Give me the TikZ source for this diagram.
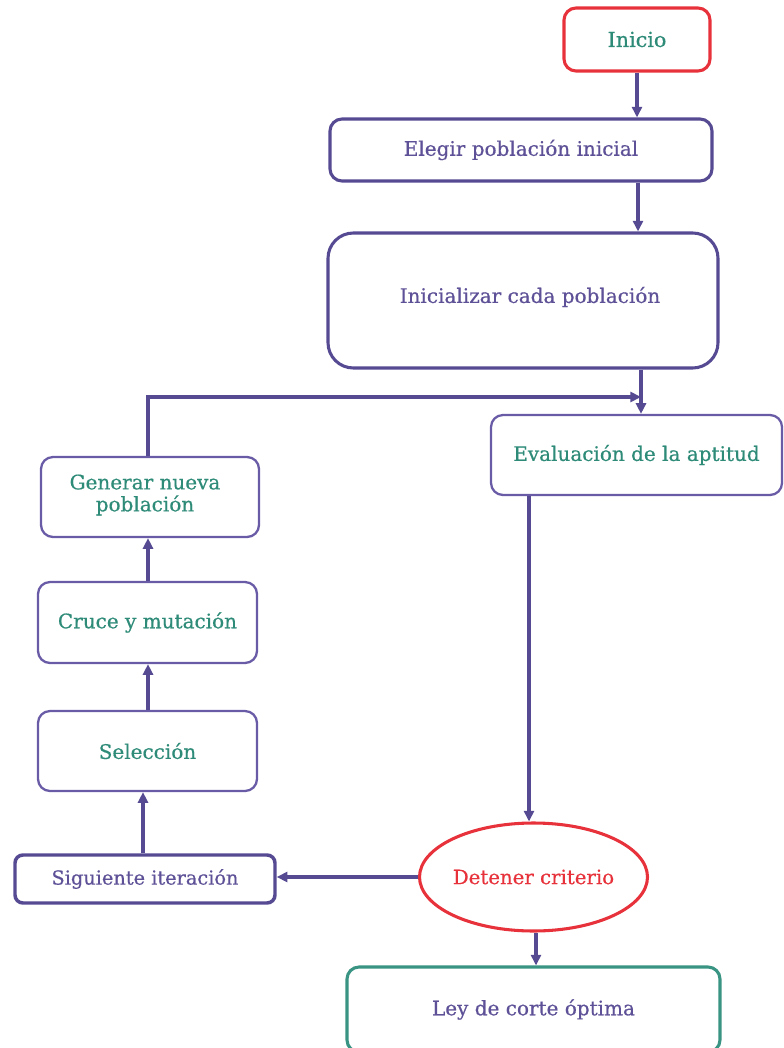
\documentclass[tikz,border=0pt]{standalone}
\usepackage{fontspec}
\setmainfont{DejaVu Serif}[FakeBold=0.5]
\usetikzlibrary{shapes.geometric,arrows.meta}
\definecolor{lineviolet}{HTML}{564A93}
\definecolor{boxviolet}{HTML}{6A5BA6}
\definecolor{txtviolet}{HTML}{5E5197}
\definecolor{txtteal}{HTML}{2E8B78}
\definecolor{edgered}{HTML}{E8323B}
\definecolor{edgeteal}{HTML}{3A9483}
\tikzset{
  box/.style={draw=lineviolet, line width=2.3pt, rounded corners=9pt, fill=white,
              align=center, inner sep=0pt, font=\fontsize{15}{16.5}\selectfont},
  thinbox/.style={box, draw=boxviolet, line width=1.7pt},
  flow/.style={draw=lineviolet, line width=2.4pt,
               -{Triangle[length=8pt,width=7.5pt]}},
}
\begin{document}
\begin{tikzpicture}[x=0.75pt, y=-0.75pt]
  \useasboundingbox (0,0) rectangle (783,1048);

  % main column
  \node[box, draw=edgered, text=txtteal, minimum width=109.5pt, minimum height=47.25pt,
        font=\fontsize{15.5}{17}\selectfont] (ini) at (637,39.5) {Inicio};
  \node[box, text=txtviolet, minimum width=286.5pt, minimum height=46.5pt] (ele) at (521,150)
        {Elegir población inicial};
  \node[box, text=txtviolet, rounded corners=19pt, minimum width=292.5pt, minimum height=101.25pt]
        (inz) at (523,300.5) {};
  \node[text=txtviolet, font=\fontsize{15}{16.5}\selectfont] (inzt) at (530,297)
        {Inicializar cada población};
  \node[thinbox, text=txtteal, minimum width=218.25pt, minimum height=60pt] (eva) at (636.5,455)
        {Evaluación de la aptitud};
  \node[ellipse, draw=edgered, line width=2.3pt, fill=white, text=edgered, inner sep=0pt,
        minimum width=165pt, minimum height=81pt, font=\fontsize{14.8}{16}\selectfont]
        (det) at (533.5,877) {Detener criterio};
  \node[box, draw=edgeteal, text=txtviolet, minimum width=279.75pt, minimum height=63.75pt]
        (ley) at (533.5,1009.5) {Ley de corte óptima};

  % loop column
  \node[box, text=txtviolet, line width=2.6pt, rounded corners=6pt, minimum width=195pt,
        minimum height=36pt, font=\fontsize{14.5}{16}\selectfont] (sig) at (145,879)
        {Siguiente iteración};
  \node[thinbox, text=txtteal, minimum width=164.25pt, minimum height=60pt] (sel) at (147.5,751)
        {Selección};
  \node[thinbox, text=txtteal, minimum width=164.25pt, minimum height=60.75pt] (cru) at (147.5,622.5)
        {Cruce y mutación};
  \node[thinbox, text=txtteal, minimum width=163.5pt, minimum height=60pt] (gen) at (150,497)
        {};
  \node[text=txtteal, align=center, font=\fontsize{15}{16.5}\selectfont] (gent) at (145,495)
        {Generar nueva\\población};

  \coordinate (bend) at (148,397);
  \coordinate (join) at (641,397);

  % connectors
  \draw[flow] (ini.south) -- (ini.south |- ele.north);
  \draw[flow] (ele.south -| 638,0) -- (inz.north -| 638,0);
  \draw[flow] (inz.south -| 641,0) -- (eva.north -| 641,0);
  \draw[flow] (gen.north -| bend) -- (bend) -- (join);
  \draw[flow] (eva.south -| 529,0) -- (det.north -| 529,0);
  \draw[flow] (det.south -| 536,0) -- (ley.north -| 536,0);
  \draw[flow] (det.west) -- (sig.east |- det.west);
  \draw[flow] (sig.north -| 143,0) -- (sel.south -| 143,0);
  \draw[flow] (sel.north -| 148,0) -- (cru.south -| 148,0);
  \draw[flow] (cru.north -| 148,0) -- (gen.south -| 148,0);
\end{tikzpicture}
\end{document}
